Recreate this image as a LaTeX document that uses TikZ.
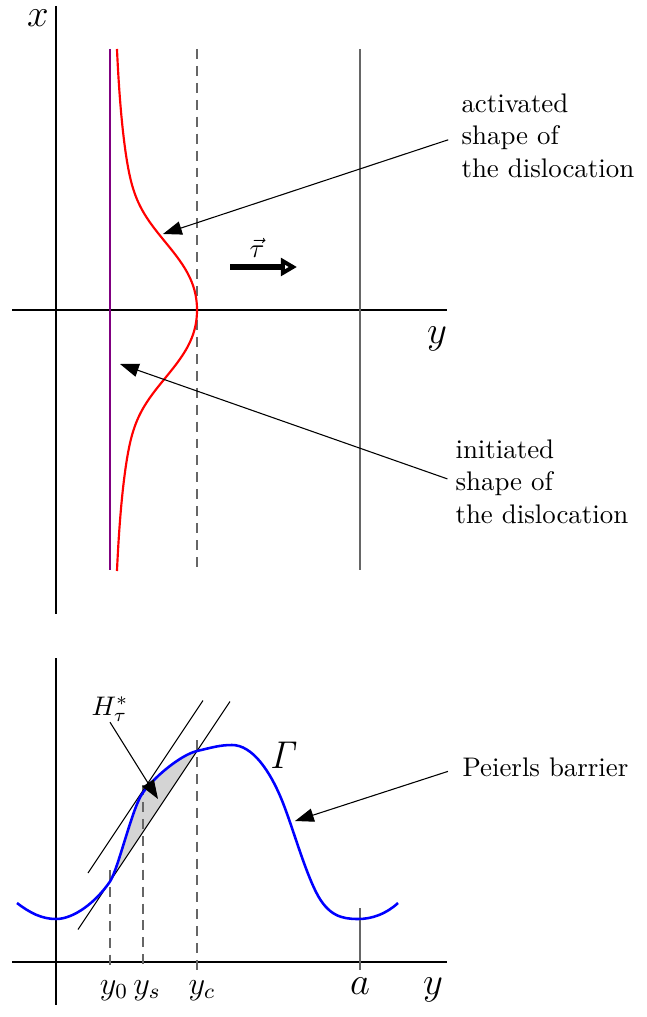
\documentclass[tikz,border=0pt]{standalone}
\usetikzlibrary{arrows.meta}
\definecolor{purp}{RGB}{128,0,128}
\begin{document}
\begin{tikzpicture}[x={(0.372pt,0)}, y={(0,-0.372pt)},
  axis/.style={line width=0.8pt, black},
  thinline/.style={line width=0.4pt, black},
  guide/.style={line width=0.55pt, black!60},
  dashguide/.style={line width=0.55pt, black!60, dash pattern=on 3.7pt off 2.6pt},
  pointer/.style={thinline, -{Triangle[length=7pt,width=5pt]}},
  lbl/.style={inner sep=0pt, font=\Large, anchor=base},
  slbl/.style={inner sep=0pt, font=\large, anchor=base},
  txt/.style={inner sep=0pt, align=left},
]
\useasboundingbox (0,0) rectangle (646,1017);

% ---------- top panel ----------
\draw[axis] (56,6) -- (56,614);
\draw[axis] (12,310) -- (447,310);
\node[lbl] (xlab) at (38,27) {$x$};
\node[lbl] (ylab) at (437,344) {$y$};

\draw[line width=0.8pt, purp] (110,49) -- (110,570);
\draw[dashguide] (197,49) -- (197,570);
\draw[guide] (360,49) -- (360,570);
\draw[line width=0.8pt, red] plot[smooth, samples=131, domain=-261:261, variable=\t]
  ({110+87*(0.625/(1+(\t/100)^2)+0.375*exp(-min(abs(\t/81)^3,15)))}, {310+\t});

\coordinate (tauS) at (230,267);
\coordinate (tauE) at (297,267);
\draw[line width=1.9pt, -{Triangle[open,length=6pt,width=6.5pt]}] (tauS) -- (tauE);
\node (taulab) at (257,248) {$\vec{\tau}$};

\node[txt, anchor=north west] (act) at (461,93.3) {activated\\shape of\\the dislocation};
\node[txt, anchor=north west] (ini) at (455,439.3) {initiated\\shape of\\the dislocation};
\coordinate (actTip) at (163,234);
\coordinate (iniTip) at (120,364);
\draw[pointer, shorten <=5pt] (act.west) -- (actTip);
\draw[pointer, shorten <=3pt] (ini.west) -- (iniTip);

% ---------- bottom panel ----------
\fill[black!17] (110,881.5) .. controls (118,869.5) and (132,809) .. (142,794)
  .. controls (152,779) and (180,755) .. (197,751) -- cycle;
\draw[axis] (56,658) -- (56,1005);
\draw[axis] (12,962) -- (447,962);
\draw[dashguide] (110,870) -- (110,970);
\draw[dashguide] (143,785) -- (143,970);
\draw[dashguide] (197,740) -- (197,970);
\draw[guide] (360,908) -- (360,970);
\draw[thinline] (88,873) -- (203,700.5);
\draw[thinline] (78,929.5) -- (230,701.5);
\draw[line width=0.95pt, blue] (17,903) .. controls (30,913) and (42,919) .. (56,919)
  .. controls (74,919) and (96,902) .. (110,881.5)
  .. controls (118,869.5) and (132,809) .. (142,794)
  .. controls (152,779) and (180,755) .. (197,751)
  .. controls (212,747.5) and (220,745) .. (232,745)
  .. controls (252,745) and (270,770) .. (283,803)
  .. controls (293,828.5) and (304,868) .. (316,892)
  .. controls (328,916) and (342,919) .. (358,919)
  .. controls (372,919) and (386,914) .. (398,903);

\node[slbl] (y0) at (114,994) {$y_0$};
\node[slbl] (ys) at (147,994) {$y_s$};
\node[slbl] (yc) at (202,994) {$y_c$};
\node[lbl] (alab) at (360,994) {$a$};
\node[lbl] (ylab2) at (433,994) {$y$};
\node[lbl, anchor=center] (gam) at (284,755) {$\mathit{\Gamma}$};

\node[inner sep=0pt, anchor=base west] (H) at (91,715) {$H_\tau^*$};
\coordinate (Htip) at (158,799);
\draw[pointer] (H.south) -- (Htip);

\node[inner sep=0pt, anchor=base west] (peierls) at (462,776) {Peierls barrier};
\coordinate (pTip) at (295,821);
\draw[pointer, shorten <=5.5pt] (peierls.west) -- (pTip);
\end{tikzpicture}
\end{document}
